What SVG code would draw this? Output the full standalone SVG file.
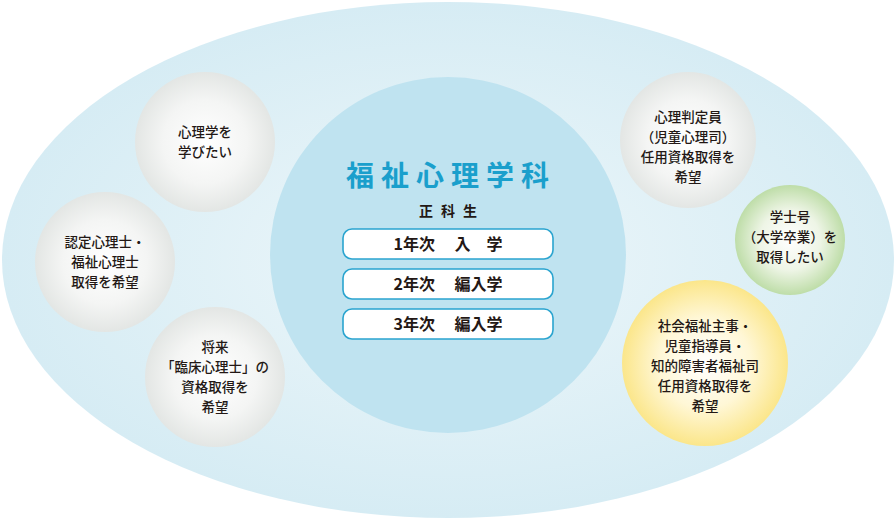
<svg xmlns="http://www.w3.org/2000/svg" width="896" height="521" viewBox="0 0 896 521">
<defs>
<radialGradient id="bg" cx="50%" cy="50%" r="50%"><stop offset="0" stop-color="#eef7fa"/><stop offset="1" stop-color="#d6ecf4"/></radialGradient>
<radialGradient id="gray"><stop offset="0" stop-color="#ffffff"/><stop offset="0.6" stop-color="#f4f5f4"/><stop offset="1" stop-color="#e3e6e4"/></radialGradient>
<radialGradient id="green"><stop offset="0" stop-color="#ffffff"/><stop offset="0.55" stop-color="#eef5e6"/><stop offset="1" stop-color="#bedda8"/></radialGradient>
<radialGradient id="yellow"><stop offset="0" stop-color="#ffffff"/><stop offset="0.55" stop-color="#fff7d6"/><stop offset="1" stop-color="#fbe68a"/></radialGradient>
</defs>
<style>
text{font-family:"Noto Sans CJK JP","Noto Sans",sans-serif;fill:#231815;text-anchor:middle;font-weight:500;font-size:13.5px}
.box{fill:#fff;stroke:#2aa4cf;stroke-width:1.6}
.bt{font-size:16px;font-weight:700}
</style>
<ellipse cx="448" cy="260" rx="446" ry="258" fill="url(#bg)"/>
<g id="center">
<circle cx="448" cy="255" r="178" fill="#bfe3f0"/>
<text x="451" y="186" style="font-size:28px;font-weight:700;fill:#1a9fcc;letter-spacing:7px">福祉心理学科</text>
<text x="452" y="216" style="font-size:14px;font-weight:700;letter-spacing:8px">正科生</text>
</g>
<g id="y1"><rect class="box" x="343" y="229" width="210" height="30" rx="9"/><text class="bt" x="448" y="250" xml:space="preserve">1年次　 入　学</text></g>
<g id="y2"><rect class="box" x="343" y="269" width="210" height="30" rx="9"/><text class="bt" x="448" y="290" xml:space="preserve">2年次　 編入学</text></g>
<g id="y3"><rect class="box" x="343" y="309" width="210" height="30" rx="9"/><text class="bt" x="448" y="330" xml:space="preserve">3年次　 編入学</text></g>
<g id="n1"><circle cx="205" cy="142" r="70" fill="url(#gray)"/><text x="205" y="137">心理学を</text><text x="205" y="157">学びたい</text></g>
<g id="n2"><circle cx="105" cy="262" r="70" fill="url(#gray)"/><text x="105" y="247">認定心理士・</text><text x="105" y="267">福祉心理士</text><text x="105" y="287">取得を希望</text></g>
<g id="n3"><circle cx="215" cy="377" r="70" fill="url(#gray)"/><text x="215" y="352">将来</text><text x="215" y="372">「臨床心理士」の</text><text x="215" y="392">資格取得を</text><text x="215" y="412">希望</text></g>
<g id="n4"><circle cx="688" cy="140" r="68" fill="url(#gray)"/><text x="688" y="122">心理判定員</text><text x="688" y="142">（児童心理司）</text><text x="688" y="162">任用資格取得を</text><text x="688" y="182">希望</text></g>
<g id="n5"><circle cx="790" cy="240" r="55" fill="url(#green)"/><text x="790" y="222">学士号</text><text x="790" y="242">（大学卒業）を</text><text x="790" y="262">取得したい</text></g>
<g id="n6"><circle cx="705" cy="363" r="83" fill="url(#yellow)"/><text x="705" y="331">社会福祉主事・</text><text x="705" y="351">児童指導員・</text><text x="705" y="371">知的障害者福祉司</text><text x="705" y="391">任用資格取得を</text><text x="705" y="411">希望</text></g>
<g id="connectors"/>
</svg>
